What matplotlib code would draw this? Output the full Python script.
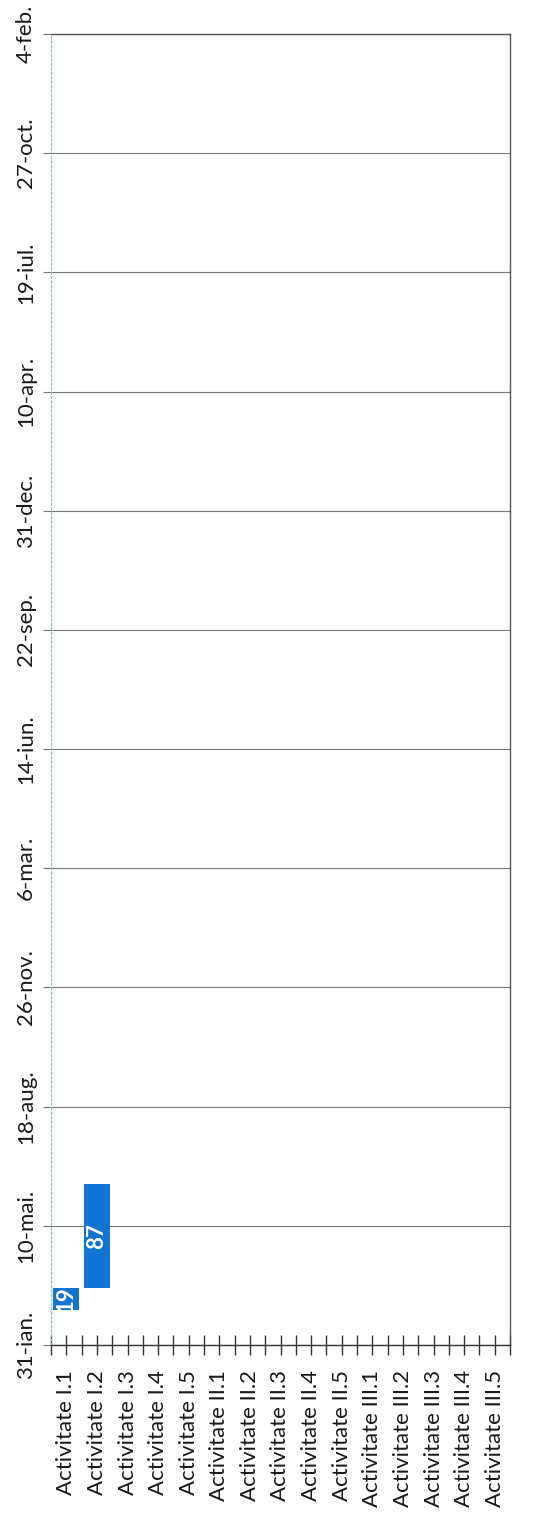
import matplotlib
matplotlib.use("Agg")
import matplotlib.pyplot as plt
import matplotlib.dates as mdates
from datetime import date, timedelta

plt.rcParams['font.family'] = ['Lato', 'DejaVu Sans']

categories = ["Activitate I.1", "Activitate I.2", "Activitate I.3", "Activitate I.4", "Activitate I.5",
              "Activitate II.1", "Activitate II.2", "Activitate II.3", "Activitate II.4", "Activitate II.5",
              "Activitate III.1", "Activitate III.2", "Activitate III.3", "Activitate III.4", "Activitate III.5"]
start_dates = [date(2016, 2, 29), date(2016, 3, 19)]
durations = [19, 87]

axis_start = date(2016, 1, 31)
axis_end = date(2019, 2, 4)
tick_step_days = 100
tick_labels = ["31-ian.", "10-mai.", "18-aug.", "26-nov.", "6-mar.", "14-iun.",
               "22-sep.", "31-dec.", "10-apr.", "19-iul.", "27-oct.", "4-feb."]

W, H = 535, 1524
fig = plt.figure(figsize=(W / 100, H / 100), dpi=100)
left, right, bottom, top = 51, 510, 1345, 34
ax = fig.add_axes([left / W, 1 - bottom / H, (right - left) / W, (bottom - top) / H])

x = list(range(len(categories)))
bar_color = '#1174d2'
for i, (s, d) in enumerate(zip(start_dates, durations)):
    b = mdates.date2num(s)
    ax.bar(i, d, bottom=b, width=0.85, color=bar_color, edgecolor='none', zorder=3)
    ax.text(i, b + d / 2, str(d), rotation=90, ha='center', va='center',
            color='white', fontsize=16, fontweight='bold', zorder=4, clip_on=True)

ax.set_xlim(-0.5, len(categories) - 0.5)
ax.set_ylim(mdates.date2num(axis_start), mdates.date2num(axis_end))

ticks = [mdates.date2num(axis_start + timedelta(days=tick_step_days * k)) for k in range(len(tick_labels))]
ax.set_yticks(ticks)
ax.set_yticklabels(tick_labels, rotation=90, va='center', fontsize=16, color='#1a1a1a')
ax.tick_params(axis='y', length=6, color='#777777', width=0.8, pad=5)
ax.yaxis.grid(True, color='#7a7a7a', linewidth=0.8, zorder=1)

ax.set_xticks(x)
ax.set_xticklabels(categories, rotation=90, ha='center', va='top', fontsize=16, color='#1a1a1a')
ax.set_xticks([i - 0.5 for i in range(len(categories) + 1)], minor=True)
ax.tick_params(axis='x', which='both', direction='inout', length=14, width=1.0, color='#333333', pad=11)

for side in ['right', 'top']:
    ax.spines[side].set_color('#555555')
    ax.spines[side].set_linewidth(1.0)
ax.spines['bottom'].set_color('#333333')
ax.spines['bottom'].set_linewidth(1.0)
ax.spines['left'].set_color('#8fb4dc')
ax.spines['left'].set_linestyle((0, (2, 2)))
ax.spines['left'].set_linewidth(0.8)

fig.savefig("out.png", dpi=100)
